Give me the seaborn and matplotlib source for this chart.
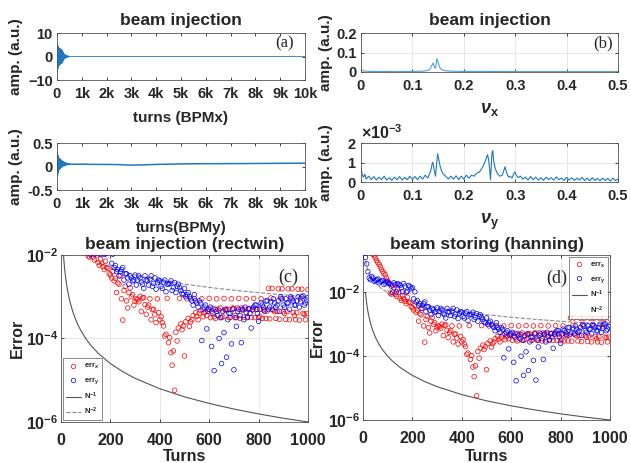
import matplotlib.pyplot as plt
import numpy as np
import seaborn as sns
from matplotlib.lines import Line2D
from matplotlib.ticker import NullLocator

sns.set_style("ticks")
plt.rcParams["font.family"] = ["Liberation Sans", "DejaVu Sans"]
plt.rcParams["font.weight"] = "bold"
plt.rcParams["axes.labelweight"] = "bold"
plt.rcParams["axes.titleweight"] = "bold"
plt.rcParams["mathtext.fontset"] = "custom"
plt.rcParams["mathtext.rm"] = "Liberation Sans"
plt.rcParams["mathtext.it"] = "Liberation Sans:italic"
plt.rcParams["mathtext.bf"] = "Liberation Sans:bold"
plt.rcParams["mathtext.default"] = "bf"

# ---------------------------------------------------------------- data
# turn-by-turn BPM signal: ring-down part (every 10 turns) + slow tail
bpm_turns = [0, 10, 20, 30, 40, 50, 60, 70, 80, 90,
             100, 110, 120, 130, 140, 150, 160, 170, 180, 190,
             200, 210, 220, 230, 240, 250, 260, 270, 280, 290,
             300, 310, 320, 330, 340, 350, 360, 370, 380, 390,
             400, 410, 420, 430, 440, 450, 460, 470, 480, 490,
             500, 600, 800, 1000, 1500, 2000, 2500, 3000, 3500, 4000,
             4500, 5000, 5500, 6000, 6500, 7000, 7500, 8000, 8500, 9000,
             9500, 10000]
bpm_x = [0.0, 5.6, -6.5, 4.8, -5.2, 4.2, -4.3, 3.8, -3.9, 3.6,
         -3.6, 3.5, -3.4, 3.3, -3.2, 3.1, -3.0, 2.9, -2.9, 2.8,
         -2.7, 2.5, -2.4, 2.2, -2.0, 1.8, -1.6, 1.4, -1.2, 1.1,
         -1.0, 0.9, -0.8, 0.7, -0.65, 0.6, -0.5, 0.45, -0.4, 0.38,
         -0.35, 0.3, -0.28, 0.25, -0.22, 0.2, -0.18, 0.15, -0.13, 0.12,
         -0.1, 0.06, -0.04, 0.03, 0.02, 0.0, 0.01, 0.0, 0.01, 0.0,
         0.01, 0.0, 0.01, 0.0, 0.01, 0.0, 0.01, 0.0, 0.01, 0.0,
         0.01, 0.0]
bpm_y = [0.05, 0.29, -0.18, 0.24, -0.12, 0.20, -0.08, 0.18, -0.06, 0.17,
         -0.05, 0.16, -0.04, 0.15, -0.03, 0.14, -0.02, 0.13, -0.01, 0.12,
         0.00, 0.11, 0.01, 0.10, 0.015, 0.095, 0.02, 0.09, 0.025, 0.085,
         0.03, 0.08, 0.035, 0.075, 0.035, 0.07, 0.04, 0.068, 0.04, 0.065,
         0.042, 0.062, 0.044, 0.06, 0.045, 0.058, 0.046, 0.056, 0.047, 0.055,
         0.048, 0.05, 0.048, 0.05, 0.045, 0.045, 0.04, 0.03, 0.035, 0.045,
         0.05, 0.055, 0.058, 0.06, 0.06, 0.062, 0.063, 0.065, 0.066, 0.068,
         0.07, 0.07]

# spectra
tune_x = [0.0, 0.005, 0.01, 0.02, 0.04, 0.06, 0.08, 0.10, 0.12, 0.13,
          0.135, 0.138, 0.1405, 0.143, 0.145, 0.1475, 0.150, 0.153, 0.156, 0.160,
          0.165, 0.170, 0.180, 0.20, 0.25, 0.30, 0.35, 0.40, 0.45, 0.50]
amp_x = [0.012, 0.005, 0.004, 0.003, 0.003, 0.002, 0.002, 0.003, 0.004, 0.008,
         0.018, 0.035, 0.046, 0.024, 0.020, 0.068, 0.050, 0.024, 0.014, 0.009,
         0.006, 0.005, 0.004, 0.003, 0.003, 0.002, 0.002, 0.002, 0.002, 0.002]

tune_y = [0.000, 0.0025, 0.005, 0.0075, 0.010, 0.015, 0.020, 0.025, 0.030, 0.035,
          0.040, 0.045, 0.050, 0.055, 0.060, 0.065, 0.070, 0.075, 0.080, 0.085,
          0.090, 0.095, 0.100, 0.105, 0.110, 0.115, 0.120, 0.125, 0.130, 0.133,
          0.136, 0.1385, 0.140, 0.1425, 0.145, 0.147, 0.149, 0.151, 0.154, 0.157,
          0.160, 0.165, 0.170, 0.175, 0.180, 0.185, 0.190, 0.195, 0.200, 0.205,
          0.210, 0.215, 0.220, 0.225, 0.230, 0.235, 0.240, 0.2435, 0.246, 0.248,
          0.2505, 0.252, 0.2535, 0.255, 0.2565, 0.258, 0.261, 0.265, 0.270, 0.275,
          0.278, 0.2805, 0.283, 0.287, 0.290, 0.294, 0.297, 0.2995, 0.302, 0.306,
          0.310, 0.315, 0.320, 0.325, 0.330, 0.335, 0.340, 0.345, 0.350, 0.355,
          0.360, 0.365, 0.370, 0.375, 0.380, 0.385, 0.390, 0.395, 0.400, 0.405,
          0.410, 0.415, 0.420, 0.425, 0.430, 0.435, 0.440, 0.445, 0.450, 0.455,
          0.460, 0.465, 0.470, 0.475, 0.480, 0.485, 0.490, 0.495, 0.500]
amp_y_e3 = [0.75, 0.35, 0.25, 0.40, 0.15, 0.30, 0.12, 0.28, 0.10, 0.25,
            0.12, 0.30, 0.10, 0.22, 0.08, 0.25, 0.12, 0.28, 0.10, 0.24,
            0.12, 0.30, 0.14, 0.28, 0.12, 0.30, 0.15, 0.35, 0.20, 0.40,
            0.60, 0.95, 1.00, 0.60, 0.30, 0.90, 1.45, 1.20, 0.80, 0.55,
            0.40, 0.30, 0.15, 0.30, 0.15, 0.32, 0.12, 0.30, 0.15, 0.35,
            0.20, 0.35, 0.30, 0.45, 0.50, 0.70, 0.95, 1.20, 1.40, 1.20,
            0.60, 0.10, 0.90, 1.55, 1.60, 1.10, 0.70, 0.45, 0.30, 0.35,
            0.60, 0.78, 0.50, 0.25, 0.30, 0.20, 0.42, 0.52, 0.35, 0.22,
            0.30, 0.15, 0.25, 0.10, 0.28, 0.12, 0.25, 0.10, 0.22, 0.08,
            0.25, 0.12, 0.22, 0.10, 0.26, 0.12, 0.20, 0.08, 0.24, 0.10,
            0.22, 0.08, 0.20, 0.10, 0.24, 0.08, 0.20, 0.06, 0.22, 0.08,
            0.18, 0.06, 0.20, 0.08, 0.18, 0.05, 0.20, 0.07, 0.15]

# tune error vs number of turns (log10 of the error)
# set A: turns 10, 20, ..., 1000
turns_a = list(range(10, 1001, 10))
log_err_x_a = [-0.40, -0.50, -0.60, -0.80, -0.92, -1.06, -1.20, -1.35, -1.45, -1.62,
               -2.02, -1.77, -2.05, -1.90, -2.18, -2.10, -2.28, -2.15, -2.32, -2.48,
               -2.40, -2.56, -2.67, -2.50, -3.56, -2.75, -3.27, -2.79, -2.95, -3.11,
               -3.07, -2.99, -3.03, -3.19, -3.25, -3.05, -3.31, -3.43, -3.05, -3.55,
               -3.62, -3.94, -3.04, -3.98, -4.64, -5.24, -4.06, -3.04, -3.79, -4.42,
               -3.05, -3.71, -3.55, -3.04, -3.47, -3.40, -3.05, -3.39, -3.45, -3.04,
               -3.35, -3.48, -3.05, -3.32, -3.50, -3.04, -3.30, -3.50, -3.05, -3.28,
               -3.50, -3.04, -3.27, -3.49, -3.05, -3.28, -3.50, -3.04, -3.30, -3.50,
               -3.05, -3.32, -3.52, -2.80, -3.03, -3.33, -3.52, -2.81, -3.04, -3.36,
               -3.54, -2.81, -3.04, -3.38, -3.55, -2.82, -3.05, -3.40, -3.55, -2.83]
log_err_y_a = [-0.90, -1.35, -1.60, -1.55, -1.62, -1.58, -1.66, -1.62, -1.70, -1.68,
               -1.74, -1.99, -1.76, -1.72, -1.78, -1.98, -1.80, -1.97, -1.82, -1.85,
               -1.98, -2.25, -2.35, -2.40, -2.30, -2.45, -2.55, -2.50, -2.62, -2.48,
               -2.60, -2.55, -2.70, -2.50, -2.62, -2.58, -2.75, -2.55, -2.66, -2.62,
               -2.80, -2.60, -2.70, -2.68, -2.85, -2.66, -2.75, -2.78, -2.92, -2.80,
               -2.95, -3.00, -3.10, -2.95, -3.15, -3.10, -4.05, -3.25, -3.77, -3.30,
               -4.19, -4.77, -3.35, -4.00, -4.60, -3.86, -4.45, -3.40, -4.13, -4.75,
               -3.71, -3.30, -4.10, -3.55, -3.38, -3.30, -3.75, -3.25, -3.20, -3.59,
               -3.15, -3.25, -3.10, -3.30, -3.12, -3.05, -3.25, -3.10, -3.00, -3.20,
               -3.05, -3.15, -3.00, -3.10, -3.20, -3.00, -3.12, -2.98, -3.15, -3.02]
# set B: turns 15, 25, ..., 995
turns_b = list(range(15, 1000, 10))
log_err_x_b = [-0.45, -0.55, -0.70, -0.85, -1.00, -1.12, -1.28, -1.40, -1.55, -1.70,
               -2.05, -1.85, -2.12, -2.00, -2.25, -2.20, -2.35, -2.30, -2.45, -2.55,
               -2.62, -2.90, -2.70, -3.05, -2.85, -3.10, -2.90, -3.00, -3.20, -3.05,
               -3.12, -3.35, -3.02, -3.42, -3.20, -3.55, -3.30, -3.62, -3.38, -3.48,
               -3.70, -3.90, -4.10, -4.34, -4.30, -3.85, -3.75, -3.65, -3.70, -3.60,
               -3.52, -3.60, -3.45, -3.38, -3.55, -3.33, -3.48, -3.36, -3.30, -3.50,
               -3.28, -3.52, -3.30, -3.27, -3.48, -3.33, -3.30, -3.50, -3.27, -3.45,
               -3.27, -3.52, -3.32, -3.30, -3.48, -3.28, -3.32, -3.50, -3.30, -3.47,
               -3.52, -3.30, -3.34, -3.53, -2.80, -3.36, -3.35, -3.54, -2.81, -3.40,
               -3.36, -3.55, -2.81, -3.45, -3.38, -3.56, -2.82, -3.42, -3.40]
log_err_y_b = [-1.10, -1.55, -1.50, -1.65, -1.60, -1.70, -1.64, -1.75, -1.66, -1.72,
               -1.80, -1.70, -1.98, -1.75, -1.85, -1.72, -1.99, -1.78, -1.88, -2.20,
               -2.30, -2.40, -2.50, -2.35, -2.60, -2.45, -2.70, -2.55, -2.60, -2.72,
               -2.50, -2.65, -2.80, -2.60, -2.72, -2.50, -2.68, -2.82, -2.60, -2.75,
               -2.65, -2.88, -2.70, -2.62, -2.78, -2.90, -2.70, -2.85, -2.95, -3.00,
               -2.90, -3.05, -3.20, -3.10, -3.25, -3.15, -3.30, -3.20, -3.35, -3.25,
               -3.40, -3.30, -3.45, -3.50, -3.35, -3.30, -3.55, -3.40, -3.30, -3.50,
               -3.35, -3.45, -3.30, -3.25, -3.50, -3.40, -3.30, -3.20, -3.40, -3.30,
               -3.20, -3.35, -3.10, -3.25, -3.30, -3.15, -3.20, -3.35, -3.05, -3.25,
               -3.15, -3.30, -3.05, -3.20, -3.10, -3.25, -3.00, -3.20, -3.08]

# reference scaling curves
ref_turns = [10, 11, 12, 13, 14, 15, 17, 20, 23, 26,
             30, 35, 40, 50, 60, 70, 80, 100, 120, 150,
             200, 250, 300, 400, 500, 600, 700, 800, 900, 1000]
ref_inv1 = [0.1, 0.0909, 0.0833, 0.0769, 0.0714, 0.0667, 0.0588, 0.05, 0.0435, 0.0385,
            0.0333, 0.0286, 0.025, 0.02, 0.0167, 0.0143, 0.0125, 0.01, 0.00833, 0.00667,
            0.005, 0.004, 0.00333, 0.0025, 0.002, 0.00167, 0.00143, 0.00125, 0.00111, 0.001]
ref_inv2 = [1e-2, 8.26e-3, 6.94e-3, 5.92e-3, 5.10e-3, 4.44e-3, 3.46e-3, 2.5e-3, 1.89e-3, 1.48e-3,
            1.11e-3, 8.16e-4, 6.25e-4, 4e-4, 2.78e-4, 2.04e-4, 1.56e-4, 1e-4, 6.94e-5, 4.44e-5,
            2.5e-5, 1.6e-5, 1.11e-5, 6.25e-6, 4e-6, 2.78e-6, 2.04e-6, 1.56e-6, 1.23e-6, 1e-6]

k_ticks = [0, 1000, 2000, 3000, 4000, 5000, 6000, 7000, 8000, 9000, 10000]
k_labels = ["0", "1k", "2k", "3k", "4k", "5k", "6k", "7k", "8k", "9k", "10k"]

LINE_BLUE = "#1f78c1"
SPEC_BLUE = "#4c9fd8"


def style_axes(ax, grid=True, size=10.5, xpad=5, ypad=3):
    ax.tick_params(direction="in", length=2.5, width=0.6, top=True, right=True,
                   labelsize=size)
    ax.tick_params(axis="x", pad=xpad)
    ax.tick_params(axis="y", pad=ypad)
    for spine in ax.spines.values():
        spine.set_color("#555555")
        spine.set_linewidth(0.6)
    if grid:
        ax.grid(True, color="#e3e3e3", linewidth=0.6)
        ax.set_axisbelow(True)


def error_panel(ax, ylim, title, tag, tag_xy, legend_loc, hide_n2):
    turns = turns_a + turns_b
    err_x = 10.0 ** np.array(log_err_x_a + log_err_x_b)
    err_y = 10.0 ** np.array(log_err_y_a + log_err_y_b)
    sns.lineplot(x=ref_turns, y=ref_inv2, ax=ax, color="#555555",
                 linewidth=0.8, estimator=None, sort=False)
    sns.lineplot(x=ref_turns, y=ref_inv1, ax=ax, color="#8a8a8a",
                 linewidth=0.8, linestyle="--", estimator=None, sort=False)
    sns.scatterplot(x=turns, y=err_x, ax=ax, marker="o", s=11,
                    facecolor="none", edgecolor="red", linewidth=0.5, zorder=3)
    sns.scatterplot(x=turns, y=err_y, ax=ax, marker="o", s=11,
                    facecolor="none", edgecolor="blue", linewidth=0.5, zorder=3)
    ax.set_yscale("log")
    ax.set_ylim(*ylim)
    ax.set_xlim(0, 1000)
    ax.set_xticks([0, 200, 400, 600, 800, 1000])
    ax.set_yticks([1e-6, 1e-4, 1e-2])
    ax.yaxis.set_minor_locator(NullLocator())
    style_axes(ax, size=11.5, xpad=8, ypad=2)
    ax.set_title(title, fontsize=12.5, pad=4)
    ax.set_xlabel("Turns", fontsize=11.5)
    ax.set_ylabel("Error", fontsize=11.5)
    ax.text(*tag_xy, tag, transform=ax.transAxes, ha="center", va="center",
            fontsize=13, fontweight="normal", family="Liberation Serif")

    handles = [
        Line2D([], [], marker="o", linestyle="none", markerfacecolor="none",
               markeredgecolor="red", markersize=3.2, markeredgewidth=0.5),
        Line2D([], [], marker="o", linestyle="none", markerfacecolor="none",
               markeredgecolor="blue", markersize=3.2, markeredgewidth=0.5),
        Line2D([], [], color="#555555", linewidth=0.8),
        Line2D([], [], color="#8a8a8a", linewidth=0.8,
               linestyle="none" if hide_n2 else "--"),
    ]
    labels = [r"err$_x$", r"err$_y$", r"N$^{-1}$", r"N$^{-2}$"]
    leg = ax.legend(handles, labels, loc=legend_loc, fontsize=5.5,
                    frameon=True, fancybox=False, borderaxespad=0.2,
                    handlelength=2.0, handletextpad=0.4, labelspacing=0.55,
                    borderpad=0.4)
    leg.get_frame().set_edgecolor("#555555")
    leg.get_frame().set_linewidth(0.6)


fig = plt.figure(figsize=(6.31, 4.63), dpi=100)

# (a) horizontal BPM turn-by-turn
ax_a = fig.add_axes([0.0903, 0.8272, 0.3930, 0.1015])
sns.lineplot(x=bpm_turns, y=bpm_x, ax=ax_a, color=LINE_BLUE, linewidth=0.6,
             estimator=None, sort=False)
ax_a.set_xlim(0, 10000)
ax_a.set_ylim(-10, 10)
ax_a.set_yticks([-10, 0, 10])
ax_a.set_xticks(k_ticks, k_labels)
style_axes(ax_a, grid=False)
ax_a.set_title("beam injection", fontsize=12.5, pad=6)
ax_a.set_xlabel("turns (BPMx)", fontsize=11)
ax_a.set_ylabel("amp. (a.u.)", fontsize=11)
ax_a.text(0.919, 0.787, "(a)", transform=ax_a.transAxes, ha="center",
          va="center", fontsize=12, fontweight="normal", family="Liberation Serif")

# (b) horizontal spectrum
ax_b = fig.add_axes([0.5721, 0.8445, 0.4073, 0.0842])
sns.lineplot(x=tune_x, y=amp_x, ax=ax_b, color=SPEC_BLUE, linewidth=0.8,
             estimator=None, sort=False)
ax_b.set_xlim(0, 0.5)
ax_b.set_ylim(0, 0.2)
ax_b.set_yticks([0, 0.1, 0.2])
ax_b.set_xticks([0, 0.1, 0.2, 0.3, 0.4, 0.5], ["0", "0.1", "0.2", "0.3", "0.4", "0.5"])
ax_b.set_yticklabels(["0", "0.1", "0.2"])
style_axes(ax_b)
ax_b.set_title("beam injection", fontsize=12.5, pad=6)
ax_b.set_xlabel(r"$\mathit{\nu}_\mathbf{x}$", fontsize=13)
ax_b.set_ylabel("amp. (a.u.)", fontsize=11)
ax_b.text(0.942, 0.744, "(b)", transform=ax_b.transAxes, ha="center",
          va="center", fontsize=12, fontweight="normal", family="Liberation Serif")

# (a2) vertical BPM turn-by-turn
ax_a2 = fig.add_axes([0.0903, 0.5896, 0.3930, 0.1015])
sns.lineplot(x=bpm_turns, y=bpm_y, ax=ax_a2, color=LINE_BLUE, linewidth=1.1,
             estimator=None, sort=False)
ax_a2.set_xlim(0, 10000)
ax_a2.set_ylim(-0.5, 0.5)
ax_a2.set_yticks([-0.5, 0, 0.5])
ax_a2.set_yticklabels(["-0.5", "0", "0.5"])
ax_a2.set_xticks(k_ticks, k_labels)
style_axes(ax_a2, grid=False)
ax_a2.set_xlabel("turns(BPMy)", fontsize=11)
ax_a2.set_ylabel("amp. (a.u.)", fontsize=11)

# (b2) vertical spectrum
ax_b2 = fig.add_axes([0.5721, 0.6069, 0.4073, 0.0842])
sns.lineplot(x=tune_y, y=np.array(amp_y_e3) * 1e-3, ax=ax_b2, color=LINE_BLUE,
             linewidth=0.8, estimator=None, sort=False)
ax_b2.set_xlim(0, 0.5)
ax_b2.set_ylim(0, 2e-3)
ax_b2.set_yticks([0, 1e-3, 2e-3])
ax_b2.set_xticks([0, 0.1, 0.2, 0.3, 0.4, 0.5], ["0", "0.1", "0.2", "0.3", "0.4", "0.5"])
ax_b2.ticklabel_format(axis="y", style="sci", scilimits=(0, 0), useMathText=True)
style_axes(ax_b2)
ax_b2.yaxis.get_offset_text().set_fontsize(11.5)
ax_b2.set_xlabel(r"$\mathit{\nu}_\mathbf{y}$", fontsize=13)
ax_b2.set_ylabel("amp. (a.u.)", fontsize=11)

# (c) and (d) tune error
ax_c = fig.add_axes([0.0967, 0.0886, 0.3914, 0.3607])
error_panel(ax_c, (1e-6, 1e-2), "beam injection (rectwin)", "(c)",
            (0.919, 0.868), "lower left", hide_n2=False)
ax_d = fig.add_axes([0.5753, 0.0929, 0.3914, 0.3564])
error_panel(ax_d, (1e-6, 0.15), "beam storing (hanning)", "(d)",
            (0.785, 0.861), "upper right", hide_n2=True)

# label placement
for ax in (ax_a, ax_a2):
    ax.yaxis.set_label_coords(-0.137, 0.5)
    ax.xaxis.set_label_coords(0.5, -0.66)
ax_b.yaxis.set_label_coords(-0.109, 0.5)
ax_b2.yaxis.set_label_coords(-0.109, 0.5)
ax_b.xaxis.set_label_coords(0.5, -0.74)
ax_b2.xaxis.set_label_coords(0.5, -0.77)
ax_c.yaxis.set_label_coords(-0.146, 0.5)
ax_d.yaxis.set_label_coords(-0.154, 0.5)
ax_c.xaxis.set_label_coords(0.5, -0.16)
ax_d.xaxis.set_label_coords(0.5, -0.176)

fig.savefig("out.png", dpi=100)
